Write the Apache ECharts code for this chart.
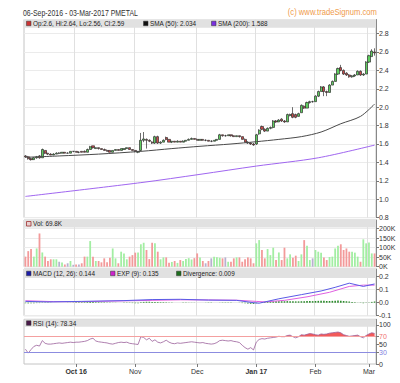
<!DOCTYPE html>
<html><head><meta charset="utf-8">
<script src="https://cdn.jsdelivr.net/npm/echarts@6/dist/echarts.min.js"></script>
<style>html,body{margin:0;padding:0;background:#fff}#c{width:400px;height:383px}</style>
</head><body><div id="c"></div>
<script>
// ---------- DATA ----------
const dates = [
'2016-09-06','2016-09-07','2016-09-08','2016-09-09','2016-09-12','2016-09-13','2016-09-14','2016-09-15','2016-09-19','2016-09-20','2016-09-21','2016-09-22','2016-09-23','2016-09-26','2016-09-27','2016-09-28','2016-09-29','2016-09-30',
'2016-10-03','2016-10-04','2016-10-05','2016-10-06','2016-10-07','2016-10-10','2016-10-11','2016-10-12','2016-10-13','2016-10-14','2016-10-17','2016-10-18','2016-10-19','2016-10-20','2016-10-21','2016-10-24','2016-10-25','2016-10-26','2016-10-27','2016-10-28','2016-10-31',
'2016-11-01','2016-11-02','2016-11-03','2016-11-04','2016-11-07','2016-11-08','2016-11-09','2016-11-10','2016-11-11','2016-11-14','2016-11-15','2016-11-16','2016-11-17','2016-11-18','2016-11-21','2016-11-22','2016-11-23','2016-11-24','2016-11-25','2016-11-28','2016-11-29','2016-11-30',
'2016-12-01','2016-12-02','2016-12-05','2016-12-06','2016-12-07','2016-12-08','2016-12-09','2016-12-12','2016-12-13','2016-12-14','2016-12-15','2016-12-16','2016-12-19','2016-12-20','2016-12-21','2016-12-22','2016-12-23','2016-12-27','2016-12-28','2016-12-29','2016-12-30',
'2017-01-03','2017-01-04','2017-01-05','2017-01-06','2017-01-09','2017-01-10','2017-01-11','2017-01-12','2017-01-13','2017-01-16','2017-01-17','2017-01-18','2017-01-19','2017-01-20','2017-01-23','2017-01-24','2017-01-25','2017-01-26','2017-01-27','2017-01-30','2017-01-31',
'2017-02-01','2017-02-02','2017-02-03','2017-02-06','2017-02-07','2017-02-08','2017-02-10','2017-02-13','2017-02-14','2017-02-15','2017-02-16','2017-02-17','2017-02-20','2017-02-21','2017-02-22','2017-02-23','2017-02-24','2017-02-27','2017-02-28',
'2017-03-01','2017-03-02','2017-03-03'];

const opens = [1.47,1.46,1.44,1.43,1.45,1.47,1.45,1.53,1.50,1.49,1.48,1.49,1.50,1.50,1.51,1.50,1.50,1.52,
1.52,1.51,1.52,1.52,1.51,1.54,1.58,1.55,1.56,1.55,1.54,1.53,1.53,1.51,1.53,1.54,1.53,1.54,1.55,1.56,1.54,
1.53,1.51,1.53,1.64,1.65,1.64,1.62,1.61,1.68,1.61,1.62,1.67,1.65,1.62,1.63,1.62,1.63,1.62,1.63,1.64,1.65,1.66,
1.65,1.64,1.65,1.64,1.64,1.63,1.63,1.64,1.65,1.70,1.69,1.69,1.70,1.69,1.68,1.69,1.68,1.65,1.62,1.61,1.60,
1.60,1.71,1.79,1.76,1.74,1.77,1.78,1.85,1.84,1.87,1.85,1.84,1.91,1.93,1.92,1.90,1.94,2.01,1.99,2.05,2.06,
2.06,2.12,2.17,2.22,2.17,2.16,2.24,2.28,2.36,2.43,2.40,2.37,2.35,2.33,2.34,2.35,2.39,2.35,2.36,
2.49,2.55,2.60];
const closes = [1.46,1.44,1.43,1.45,1.46,1.45,1.54,1.50,1.49,1.48,1.49,1.50,1.50,1.51,1.50,1.50,1.52,1.52,
1.51,1.51,1.51,1.51,1.54,1.57,1.56,1.56,1.55,1.54,1.53,1.52,1.51,1.53,1.54,1.53,1.55,1.55,1.56,1.54,1.53,
1.52,1.52,1.64,1.655,1.64,1.63,1.61,1.68,1.61,1.62,1.64,1.65,1.62,1.63,1.62,1.63,1.62,1.63,1.64,1.65,1.66,1.65,
1.64,1.65,1.64,1.64,1.63,1.63,1.64,1.65,1.70,1.69,1.69,1.70,1.69,1.68,1.69,1.68,1.65,1.62,1.61,1.60,1.59,
1.70,1.75,1.76,1.74,1.77,1.78,1.85,1.84,1.86,1.85,1.84,1.92,1.92,1.89,1.89,1.93,2.02,1.99,2.05,2.06,2.06,
2.12,2.17,2.22,2.17,2.16,2.24,2.28,2.36,2.42,2.40,2.36,2.35,2.33,2.34,2.35,2.39,2.35,2.36,2.49,
2.56,2.61,2.59];
const lows = [1.45,1.43,1.42,1.43,1.44,1.44,1.45,1.49,1.48,1.48,1.48,1.49,1.49,1.50,1.50,1.50,1.50,1.51,
1.51,1.50,1.51,1.51,1.51,1.54,1.55,1.55,1.54,1.54,1.53,1.52,1.51,1.51,1.53,1.53,1.53,1.54,1.55,1.54,1.53,
1.51,1.50,1.52,1.62,1.55,1.62,1.60,1.60,1.60,1.60,1.62,1.64,1.62,1.61,1.62,1.62,1.62,1.62,1.63,1.64,1.65,1.65,
1.64,1.64,1.64,1.63,1.63,1.62,1.63,1.64,1.65,1.68,1.68,1.69,1.68,1.68,1.68,1.67,1.65,1.62,1.60,1.59,1.58,
1.59,1.70,1.75,1.73,1.74,1.76,1.77,1.83,1.84,1.84,1.83,1.84,1.90,1.88,1.88,1.90,1.94,1.98,1.99,2.04,2.05,
2.06,2.11,2.17,2.12,2.12,2.16,2.24,2.28,2.35,2.39,2.35,2.34,2.32,2.32,2.33,2.35,2.34,2.34,2.36,
2.48,2.55,2.56];
const highs = [1.48,1.47,1.45,1.46,1.47,1.48,1.55,1.53,1.50,1.50,1.50,1.51,1.51,1.51,1.51,1.51,1.52,1.52,
1.52,1.52,1.52,1.53,1.55,1.58,1.58,1.56,1.56,1.55,1.55,1.54,1.53,1.53,1.54,1.54,1.55,1.55,1.56,1.56,1.54,
1.53,1.52,1.72,1.73,1.66,1.65,1.63,1.69,1.69,1.63,1.65,1.68,1.65,1.63,1.63,1.64,1.63,1.64,1.64,1.66,1.67,1.66,
1.66,1.65,1.65,1.65,1.64,1.64,1.64,1.65,1.71,1.70,1.70,1.70,1.70,1.69,1.69,1.69,1.68,1.66,1.63,1.62,1.61,
1.71,1.76,1.80,1.77,1.78,1.79,1.86,1.86,1.87,1.88,1.86,1.93,1.93,2.00,1.93,1.94,2.03,2.02,2.06,2.07,2.07,
2.13,2.18,2.23,2.23,2.18,2.25,2.29,2.37,2.43,2.46,2.41,2.38,2.36,2.35,2.36,2.40,2.40,2.37,2.50,
2.57,2.63,2.64];

// volume in thousands
const volumeK = [53,82,93,53,96,175,75,53,30,39,39,39,26,22,12,18,30,10,
12,12,18,53,53,135,53,30,30,23,44,23,47,96,44,18,79,70,39,53,61,
74,75,118,126,88,40,126,123,79,39,49,49,21,25,30,20,35,30,40,45,38,45,
70,49,30,18,30,44,53,50,47,44,49,26,26,44,49,49,26,39,49,44,18,
123,140,88,44,93,61,100,35,75,35,100,44,65,47,58,30,65,140,110,35,44,
88,79,74,49,35,51,53,96,110,118,88,96,79,79,74,53,26,144,123,
128,70,69.8];

// moving averages read at sample dates: [dateIndex, value]
const sma50 = [[0,1.455],[12,1.47],[26,1.49],[41,1.52],[52,1.55],[62,1.575],[73,1.60],[82,1.625],[90,1.65],[98,1.68],[105,1.73],[112,1.82],[119,1.90],[124,2.034]];
const sma200 = [[0,1.03],[41,1.18],[62,1.27],[82,1.36],[104,1.45],[124,1.588]];

// MACD panel
const macdLine = [[0,0.010],[8,0.006],[20,0.010],[35,0.016],[45,0.024],[55,0.026],[65,0.020],[75,0.018],[81,0.000],[83,-0.004],[90,0.030],[98,0.062],[105,0.090],[110,0.118],[115,0.150],[120,0.125],[124,0.144]];
const expLine = [[0,0.015],[10,0.008],[20,0.008],[35,0.014],[45,0.018],[55,0.022],[65,0.021],[75,0.019],[82,0.010],[85,0.006],[92,0.018],[100,0.045],[108,0.080],[115,0.125],[120,0.135],[124,0.135]];
const divergence = [-0.004,-0.005,-0.005,-0.004,-0.003,-0.003,0.002,0.002,0.001,0.001,0,0,0,-0.001,0,0.001,0.001,0.002,
0.003,0.003,0.004,0.004,0.005,0.005,0.005,0.004,0.004,0.003,0.003,0.002,0.002,0.001,0.001,0,-0.001,-0.002,-0.002,-0.002,-0.003,
-0.004,-0.004,0.003,0.006,0.007,0.007,0.006,0.006,0.005,0.004,0.004,0.003,0.002,0.001,0,0,0,0.001,0.001,0.001,0.001,0.001,
0,0,-0.001,-0.001,-0.002,-0.002,-0.001,0,0.001,0.002,0.002,0.001,0.001,0,0,-0.001,-0.003,-0.005,-0.007,-0.008,-0.009,
-0.005,0,0.004,0.006,0.008,0.009,0.010,0.011,0.011,0.011,0.011,0.012,0.012,0.011,0.010,0.010,0.011,0.012,0.013,0.013,0.012,
0.013,0.014,0.015,0.014,0.013,0.013,0.014,0.015,0.016,0.015,0.013,0.011,0.009,0.006,0.003,0.001,-0.002,-0.004,-0.003,
0.002,0.006,0.009];

const rsi = [38,28,37,45,48,46,60,53,51,51,52,53,54,53,54,55,56,55,
56,56,57,58,60,64,66,59,57,56,55,54,52,51,53,55,56,55,56,53,52,
51,50,70,68,62,66,58,62,56,54,57,61,56,53,52,54,53,54,55,56,57,56,
55,54,55,53,52,51,52,55,60,61,60,59,60,58,57,55,48,42,38,42,36,
56,63,65,64,66,67,68,69,71,70,70,73,74,70,67,70,75,74,76,78,77,
75,74,77,76,77,79,80,81,82,80,75,73,71,72,73,74,70,67,73,
77,80,78.34];

const monthStarts = ['2016-10-03','2016-11-01','2016-12-01','2017-01-03','2017-02-01','2017-03-01'];
const monthLabels = ['Oct 16','Nov','Dec','Jan 17','Feb','Mar'];
const priceTicks = {min:0.8, step:0.2};
const volTicks = {min:0, step:50};
const macdTicks = {min:-0.1, step:0.1};
const rsiTicks = [0,30,50,70,100];

// ---------- CHART ----------
const FONT = 'Liberation Sans, Arial, sans-serif';
const L = 24, R = 24;
const grids = [
  {left:L, right:R, top:19.5, height:198.1},
  {left:L, right:R, top:220, height:46.7},
  {left:L, right:R, top:269, height:46.7},
  {left:L, right:R, top:319.3, height:44.7}
].map(g => Object.assign({show:true, borderColor:'#c4c4c4', borderWidth:1, backgroundColor:'#fff'}, g));

const isMonth = (i, v) => monthStarts.indexOf(v) >= 0;
function xAxis(k, bottom){
  return {
    type:'category', gridIndex:k, data:dates, boundaryGap:true,
    axisLine:{show:false},
    axisTick:{show:bottom, interval:isMonth, alignWithLabel:true, length:3, lineStyle:{color:'#777'}},
    axisLabel:{show:bottom, interval:isMonth, fontSize:7, color:'#333', margin:4, fontFamily:FONT,
      formatter:(v)=>{const k2=monthStarts.indexOf(v); if(k2<0) return ''; const t=monthLabels[k2]; return /\d/.test(t)?'{b|'+t+'}':t;},
      rich:{b:{fontWeight:'bold', fontSize:7, color:'#333', fontFamily:FONT}}},
    splitLine:{show:true, interval:isMonth, lineStyle:{color:'#e0e0e0', width:1}}
  };
}
const yBase = {position:'right', axisLine:{show:true, lineStyle:{color:'#888'}},
  axisTick:{show:true, length:3, lineStyle:{color:'#777'}},
  splitLine:{show:true, lineStyle:{color:'#ebebeb'}}};
const lab = (f)=>({fontSize:7, color:'#333', margin:3, fontFamily:FONT, showMaxLabel:false, formatter:f});

const pMax = 2.953, vMax = 245.8, mMax = 0.259, rMax = 114.6;

const candleData = opens.map((o,i)=>[o, closes[i], lows[i], highs[i]]);
const volData = volumeK.map((v,i)=>({value:v, itemStyle:{color: closes[i]>opens[i]?'#a3eea3':(closes[i]<opens[i]?'#f39a9a':'#b8b0cf')}}));
const rsiFill = rsi.map(v=>Math.max(v,70));

const option = {
  animation:false,
  backgroundColor:'#fff',
  grid: grids,
  xAxis:[xAxis(0,false), xAxis(1,false), xAxis(2,false), xAxis(3,true)],
  yAxis:[
    Object.assign({type:'value', gridIndex:0, min:priceTicks.min, max:pMax, interval:priceTicks.step,
      axisLabel:lab(v=> (Math.abs(v-pMax)<1e-6)?'':v.toFixed(1))}, yBase),
    Object.assign({type:'value', gridIndex:1, min:volTicks.min, max:vMax, interval:volTicks.step,
      axisLabel:lab(v=> (Math.abs(v-vMax)<1e-6)?'':Math.round(v)+'K')}, yBase),
    Object.assign({type:'value', gridIndex:2, min:macdTicks.min, max:mMax, interval:macdTicks.step,
      axisLabel:lab(v=> (Math.abs(v-mMax)<1e-6)?'':v.toFixed(1))}, yBase),
    Object.assign({}, yBase, {type:'value', gridIndex:3, min:0, max:rMax,
      axisTick:{show:true, length:3, lineStyle:{color:'#777'}, customValues:rsiTicks},
      splitLine:{show:false},
      axisLabel:{fontSize:7, color:'#333', margin:3, fontFamily:FONT, customValues:rsiTicks,
        formatter:v=> v===70?'{r|70}':(v===30?'{b|30}':String(v)),
        rich:{r:{color:'#f07070', fontSize:7, fontFamily:FONT}, b:{color:'#8080e0', fontSize:7, fontFamily:FONT}}}})
  ],
  series:[
    {type:'candlestick', xAxisIndex:0, yAxisIndex:0, data:candleData, barWidth:2.6,
      itemStyle:{color:'#5fcf5f', color0:'#c94a4a', borderColor:'#2e2e2e', borderColor0:'#2e2e2e', borderWidth:0.7}},
    {type:'line', xAxisIndex:0, yAxisIndex:0, data:sma50, showSymbol:false, smooth:0.3,
      lineStyle:{color:'#4a4a4a', width:1}},
    {type:'line', xAxisIndex:0, yAxisIndex:0, data:sma200, showSymbol:false, smooth:0.3,
      lineStyle:{color:'#a066f0', width:1}},
    {type:'bar', xAxisIndex:1, yAxisIndex:1, data:volData, barWidth:1.8},
    {type:'bar', xAxisIndex:2, yAxisIndex:2, data:divergence, barWidth:1.6, itemStyle:{color:'#2a8a2a'}},
    {type:'line', xAxisIndex:2, yAxisIndex:2, data:expLine, showSymbol:false, lineStyle:{color:'#e060e0', width:1}},
    {type:'line', xAxisIndex:2, yAxisIndex:2, data:macdLine, showSymbol:false, lineStyle:{color:'#5a5ae6', width:1}},
    {type:'line', xAxisIndex:3, yAxisIndex:3, data:rsiFill, showSymbol:false, lineStyle:{width:0},
      areaStyle:{origin:70, color:'#f25a5a', opacity:1}, z:1},
    {type:'line', xAxisIndex:3, yAxisIndex:3, data:rsi, showSymbol:false, lineStyle:{color:'#9a609a', width:0.8}, z:3,
      markLine:{silent:true, symbol:'none', label:{show:false},
        data:[{yAxis:70, lineStyle:{color:'#f4a0a0', width:1, type:'solid'}},
              {yAxis:30, lineStyle:{color:'#8c8ce0', width:1, type:'solid'}}]}}
  ],
  graphic:[
    {type:'text', x:23, y:12.5, scaleX:0.73, style:{text:'06-Sep-2016 - 03-Mar-2017 PMETAL', fontSize:9.5, fontFamily:FONT, fill:'#333', verticalAlign:'middle'}},
    {type:'text', x:377, y:12.5, scaleX:0.9, style:{text:'(c) www.tradeSignum.com', fontSize:8.5, fontFamily:FONT, fill:'#ef9a4a', align:'right', verticalAlign:'middle'}},
    // legend bands
    {type:'rect', z:50, shape:{x:24.5, y:19.5, width:351, height:8.2}, style:{fill:'#e1e1e1'}},
    {type:'rect', z:50, shape:{x:24.5, y:220, width:351, height:7.5}, style:{fill:'#e1e1e1'}},
    {type:'rect', z:50, shape:{x:24.5, y:269, width:351, height:9}, style:{fill:'#e1e1e1'}},
    {type:'rect', z:50, shape:{x:24.5, y:319.3, width:351, height:7.5}, style:{fill:'#e1e1e1'}},
    // main legend
    {type:'rect', z:51, shape:{x:26.5, y:21.2, width:4.5, height:4.5}, style:{fill:'#cc3333', stroke:'#333', lineWidth:0.5}},
    {type:'text', z:51, x:33, y:23.6, scaleX:0.85, style:{text:'Op:2.6, Hi:2.64, Lo:2.56, Cl:2.59', fontSize:7.5, fontFamily:FONT, fill:'#222', verticalAlign:'middle'}},
    {type:'rect', z:51, shape:{x:143.5, y:21.2, width:4.5, height:4.5}, style:{fill:'#111', stroke:'#333', lineWidth:0.5}},
    {type:'text', z:51, x:150, y:23.6, scaleX:0.85, style:{text:'SMA (50): 2.034', fontSize:7.5, fontFamily:FONT, fill:'#222', verticalAlign:'middle'}},
    {type:'rect', z:51, shape:{x:211.5, y:21.2, width:4.5, height:4.5}, style:{fill:'#7a2fe0', stroke:'#333', lineWidth:0.5}},
    {type:'text', z:51, x:218, y:23.6, scaleX:0.85, style:{text:'SMA (200): 1.588', fontSize:7.5, fontFamily:FONT, fill:'#222', verticalAlign:'middle'}},
    // volume legend
    {type:'rect', z:51, shape:{x:26.5, y:221.5, width:4.5, height:4.5}, style:{fill:'#e8d0d0', stroke:'#a03030', lineWidth:0.8}},
    {type:'text', z:51, x:33, y:223.8, scaleX:0.85, style:{text:'Vol: 69.8K', fontSize:7.5, fontFamily:FONT, fill:'#222', verticalAlign:'middle'}},
    // MACD legend
    {type:'rect', z:51, shape:{x:26.5, y:271.2, width:4.5, height:4.5}, style:{fill:'#1c1ca8', stroke:'#333', lineWidth:0.5}},
    {type:'text', z:51, x:33, y:273.6, scaleX:0.85, style:{text:'MACD (12, 26): 0.144', fontSize:7.5, fontFamily:FONT, fill:'#222', verticalAlign:'middle'}},
    {type:'rect', z:51, shape:{x:110.5, y:271.2, width:4.5, height:4.5}, style:{fill:'#cc22cc', stroke:'#333', lineWidth:0.5}},
    {type:'text', z:51, x:117, y:273.6, scaleX:0.85, style:{text:'EXP (9): 0.135', fontSize:7.5, fontFamily:FONT, fill:'#222', verticalAlign:'middle'}},
    {type:'rect', z:51, shape:{x:176.5, y:271.2, width:4.5, height:4.5}, style:{fill:'#1d6e1d', stroke:'#333', lineWidth:0.5}},
    {type:'text', z:51, x:183, y:273.6, scaleX:0.85, style:{text:'Divergence: 0.009', fontSize:7.5, fontFamily:FONT, fill:'#222', verticalAlign:'middle'}},
    // RSI legend
    {type:'rect', z:51, shape:{x:26.5, y:320.8, width:4.5, height:4.5}, style:{fill:'#4a1a4a', stroke:'#333', lineWidth:0.5}},
    {type:'text', z:51, x:33, y:323.1, scaleX:0.85, style:{text:'RSI (14): 78.34', fontSize:7.5, fontFamily:FONT, fill:'#222', verticalAlign:'middle'}}
  ]
};

const chart = echarts.init(document.getElementById('c'), null, {renderer:'svg', width:400, height:383});
chart.setOption(option);
</script>
</body></html>
